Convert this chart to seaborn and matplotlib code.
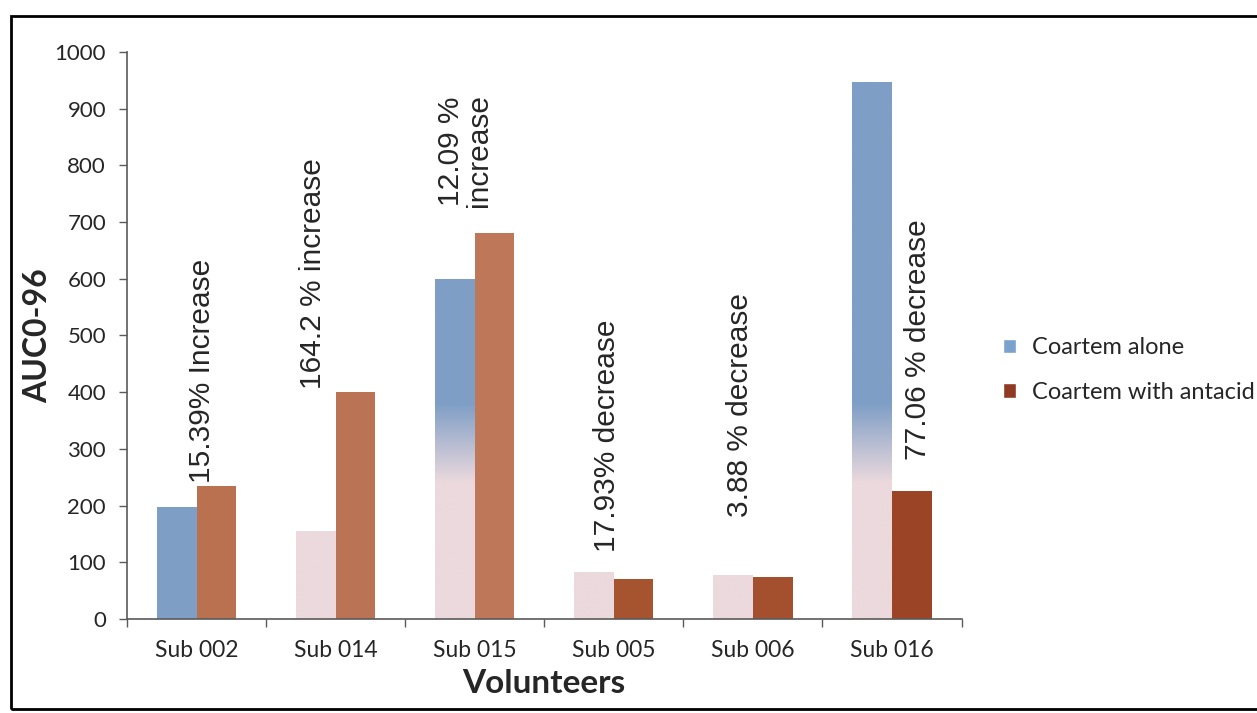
import numpy as np
import pandas as pd
import matplotlib
matplotlib.use("Agg")
import matplotlib.pyplot as plt
import seaborn as sns
from matplotlib.colors import LinearSegmentedColormap
from matplotlib.patches import Patch, Rectangle

# --- data ---
volunteers = ["Sub 002", "Sub 014", "Sub 015", "Sub 005", "Sub 006", "Sub 016"]
coartem_alone = [198, 155, 600, 82, 77, 948]
coartem_antacid = [234, 400, 680, 70, 74, 225]
series_names = ["Coartem alone", "Coartem with antacid"]
change_notes = ["15.39% Increase", "164.2 % increase", "12.09 %\nincrease",
                "17.93% decrease", "3.88 % decrease", "77.06 % decrease"]

# where each note sits: shift from the category centre, and y of its lower end
note_dx = [0.04, -0.16, -0.07, -0.05, -0.09, 0.19]
note_y = [240, 405, 726, 118, 180, 280]

# colours (the scan fades the blue bars to pink towards the bottom)
BLUE = "#7f9ec6"
PINK = "#ebd9dd"
LEGEND_BLUE = "#7aa2cc"
LEGEND_BROWN = "#8f3a22"
brown_shades = ["#b9714f", "#bb7355", "#be7759", "#a6532f", "#a4502e", "#9c4526"]
fade_blue = [False, True, True, True, True, True]

df = pd.DataFrame({
    "volunteer": volunteers * 2,
    "series": [series_names[0]] * len(volunteers) + [series_names[1]] * len(volunteers),
    "auc": coartem_alone + coartem_antacid,
})

sns.set_style("white")
plt.rcParams["font.family"] = ["Lato", "DejaVu Sans"]

fig = plt.figure(figsize=(12.57, 7.13), dpi=100)
ax = fig.add_axes([0.101, 0.132, 0.664, 0.795])

sns.barplot(data=df, x="volunteer", y="auc", hue="series", order=volunteers,
            hue_order=series_names, palette=[BLUE, brown_shades[0]], width=0.57,
            saturation=1, errorbar=None, legend=False, ax=ax)

for bar, col in zip(ax.containers[1], brown_shades):
    bar.set_facecolor(col)
    bar.set_edgecolor("none")

fade_cmap = LinearSegmentedColormap.from_list("fade", [PINK, BLUE])
for bar, fade in zip(ax.containers[0], fade_blue):
    bar.set_edgecolor("none")
    if not fade:
        continue
    x0, w, h = bar.get_x(), bar.get_width(), bar.get_height()
    yy = np.linspace(0, h, 200).reshape(-1, 1)
    im = ax.imshow(yy, cmap=fade_cmap, norm=plt.Normalize(240, 380), origin="lower",
                   extent=[x0, x0 + w, 0, h], aspect="auto", zorder=1.5,
                   interpolation="bilinear")
    im.set_clip_path(bar)

ax.set_xlim(-0.5, len(volunteers) - 0.5)
ax.set_ylim(0, 1000)
ax.set_yticks(range(0, 1001, 100))

sns.despine(ax=ax)
for side in ["left", "bottom"]:
    ax.spines[side].set_color("#5a5a5a")
    ax.spines[side].set_linewidth(1.2)

ax.tick_params(axis="y", which="major", direction="out", length=6, width=1,
               color="#5a5a5a", pad=9, labelsize=16, left=True)
ax.tick_params(axis="x", which="major", length=0, pad=15, labelsize=16.5)
ax.set_xticks(np.arange(-0.5, len(volunteers), 1.0), minor=True)
ax.tick_params(axis="x", which="minor", direction="out", length=6, width=1,
               color="#5a5a5a", bottom=True)

ax.set_xlabel("Volunteers", fontsize=24, fontweight="bold", labelpad=6)
ax.set_ylabel("AUC0-96", fontsize=23, fontweight="bold", labelpad=2)

for i, note in enumerate(change_notes):
    ax.text(i + note_dx[i], note_y[i], note, rotation=90, ha="center", va="bottom",
            fontsize=21.5, family="Liberation Sans", linespacing=1.0)

handles = [Patch(facecolor=LEGEND_BLUE, label=series_names[0]),
           Patch(facecolor=LEGEND_BROWN, label=series_names[1])]
fig.legend(handles=handles, loc="center left", bbox_to_anchor=(0.781, 0.481),
           frameon=False, fontsize=17, handlelength=0.55, handleheight=0.55,
           handletextpad=0.7, labelspacing=1.0)

# outer frame of the original figure
fig.add_artist(Rectangle((11 / 1257, 1 - 709 / 713), 1.0, (709 - 16) / 713,
                         transform=fig.transFigure, fill=False, ec="black", lw=2))

fig.savefig("out.png", dpi=100)
plt.close()
